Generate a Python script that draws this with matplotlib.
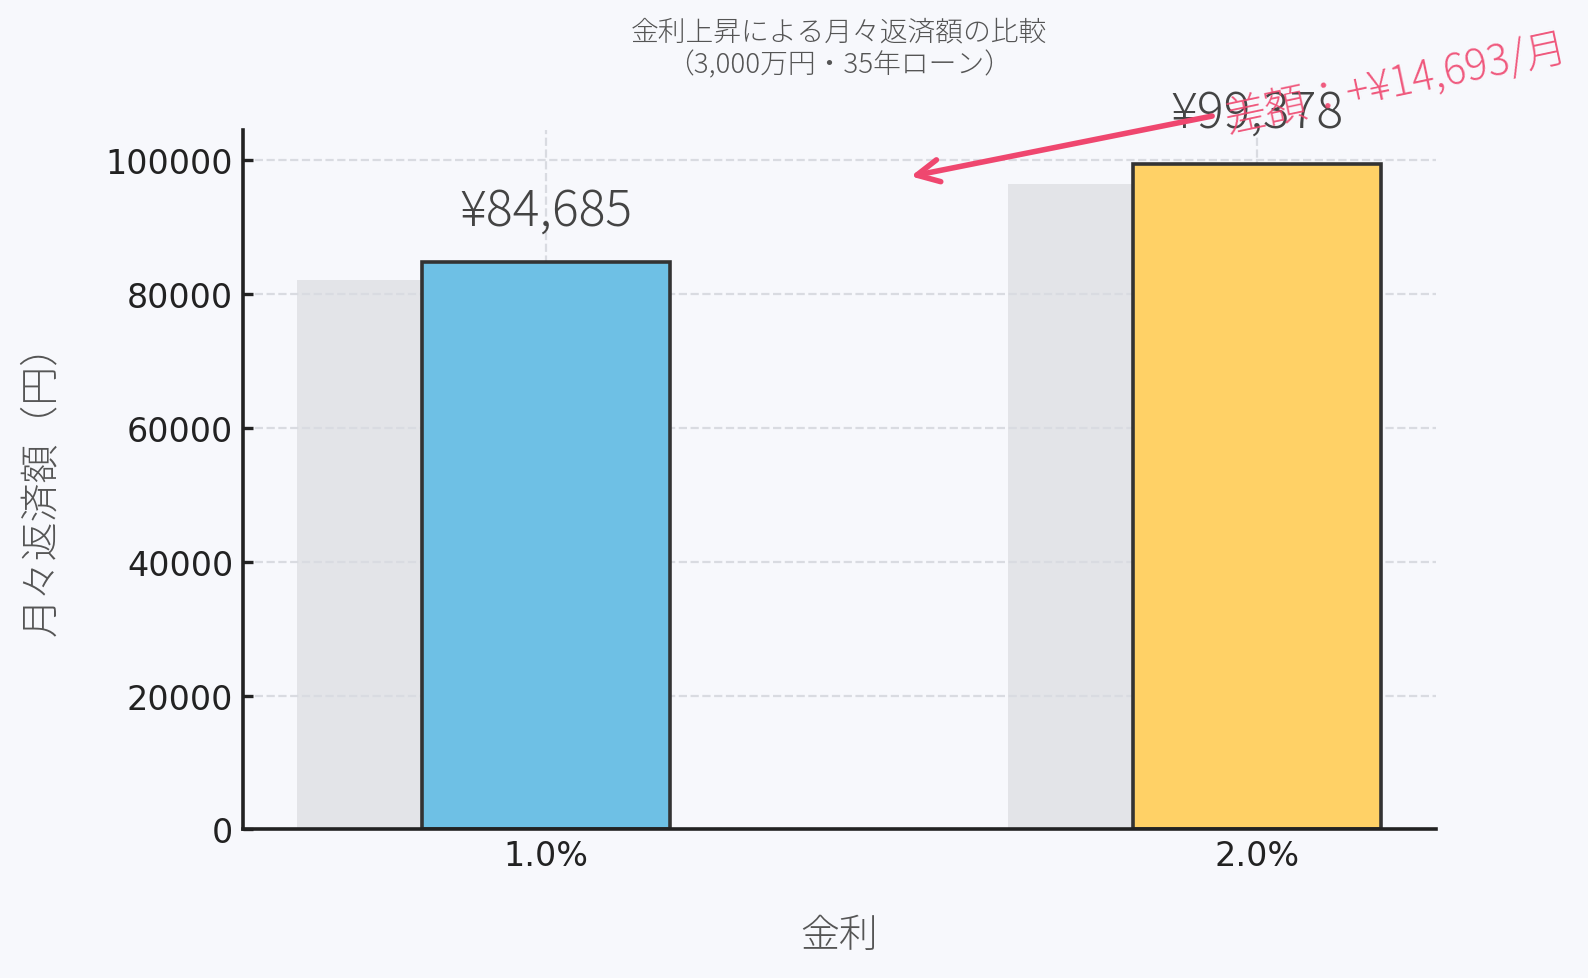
import matplotlib
matplotlib.use("Agg")
import matplotlib.pyplot as plt

# data
rates = ["1.0%", "2.0%"]
payments = [84685, 99378]
shadow_values = [82100, 96400]
bar_colors = ["#6ec0e5", "#ffd166"]

title = "金利上昇による月々返済額の比較\n（3,000万円・35年ローン）"
xlabel = "金利"
ylabel = "月々返済額（円）"

# annotation geometry (data coords)
arrow_head = (0.513, 97500)
arrow_tail = (0.937, 106500)
note_pos = (1.196, 111200)

BG = "#f7f8fc"
PINK = "#ef476f"
JP = ["Noto Sans CJK JP", "DejaVu Sans"]

fig = plt.figure(figsize=(7.94, 4.895), dpi=200, facecolor=BG)
ax = fig.add_axes([0.1530, 0.1517, 0.9040 - 0.1530, 0.8657 - 0.1517])
ax.set_facecolor(BG)

xs = list(range(len(rates)))
w = 0.35
ax.bar([x - w / 2 for x in xs], shadow_values, width=w, color="#e3e4e8",
       zorder=0.2, linewidth=0)
ax.bar(xs, payments, width=w, color=bar_colors, edgecolor="#333333",
       linewidth=1.3, zorder=2)

for x, v in zip(xs, payments):
    ax.annotate(f"¥{v:,}", xy=(x, v), xytext=(0, 13.5),
                textcoords="offset points", ha="center", va="baseline",
                fontsize=18, color="#444444", family=JP, fontweight="light",
                zorder=3)

diff = payments[1] - payments[0]
ax.annotate("", xy=arrow_head, xytext=arrow_tail,
            arrowprops=dict(arrowstyle="->", color=PINK, lw=2,
                            mutation_scale=20, shrinkA=0, shrinkB=0),
            zorder=4)
ax.text(*note_pos, f"差額：+¥{diff:,}/月", ha="center", va="center",
        rotation=12, fontsize=15, color=PINK, alpha=0.9, family=JP,
        fontweight="light", zorder=5)

ax.set_xticks(xs)
ax.set_xticklabels(rates)
ax.set_axisbelow(True)
ax.grid(True, ls="--", lw=0.8, color="#d9dbe1")

for s in ("top", "right"):
    ax.spines[s].set_visible(False)
for s in ("left", "bottom"):
    ax.spines[s].set_color("#222222")
    ax.spines[s].set_linewidth(1.3)
ax.tick_params(direction="in", length=3.5, width=1.2, color="#222222",
               labelsize=12, labelcolor="#222222", pad=3.5)

ax.set_title(title, fontsize=10, color="#555555", family=JP,
             fontweight="light", pad=21, linespacing=1.2)
ax.set_xlabel(xlabel, fontsize=14, color="#555555", family=JP,
              fontweight="light", labelpad=15.5)
ax.set_ylabel(ylabel, fontsize=14, color="#555555", family=JP,
              fontweight="light", labelpad=16)

fig.savefig("out.png", dpi=200, facecolor=BG)
